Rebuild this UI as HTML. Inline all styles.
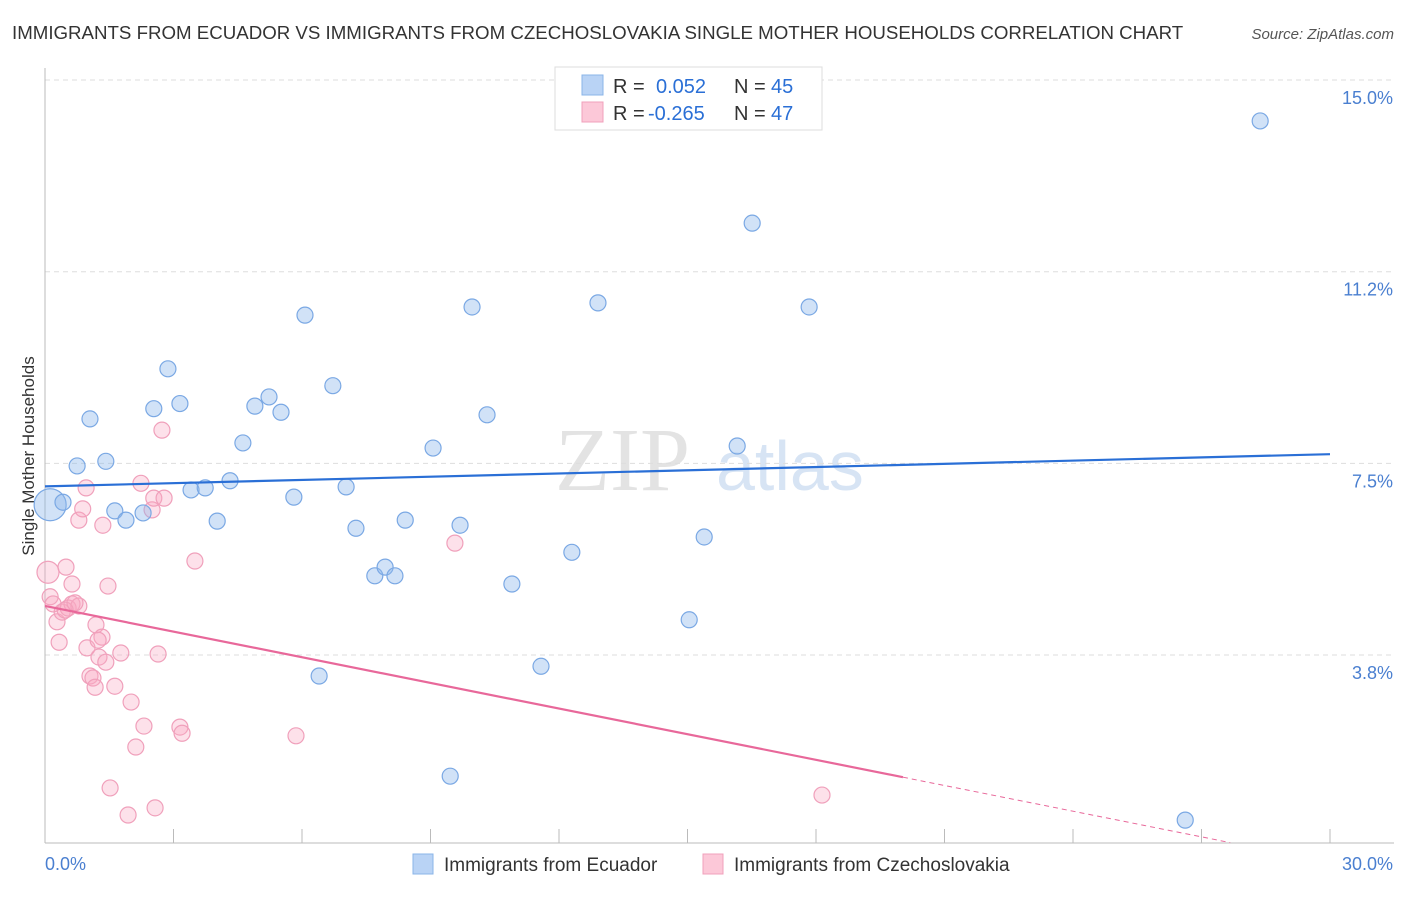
<!DOCTYPE html>
<html><head><meta charset="utf-8"><style>
body{margin:0;background:#fff;font-family:"Liberation Sans",sans-serif;}
</style></head><body>
<svg id="chart" width="1406" height="892" xmlns="http://www.w3.org/2000/svg" font-family="Liberation Sans, sans-serif">
<text x="12" y="39" font-size="18.7" fill="#333">IMMIGRANTS FROM ECUADOR VS IMMIGRANTS FROM CZECHOSLOVAKIA SINGLE MOTHER HOUSEHOLDS CORRELATION CHART</text>
<text x="1394" y="39" font-size="15" fill="#555" text-anchor="end" font-style="italic">Source: ZipAtlas.com</text>
<text x="555" y="490" font-size="90" fill="#ddd" font-family="Liberation Serif, serif" opacity="0.8">ZIP</text>
<text x="716" y="490" font-size="70" fill="#c7d9f0" opacity="0.7">atlas</text>
<g id="grid"></g>
<g id="ticks"></g>
<text transform="translate(34,456) rotate(-90)" font-size="17" fill="#333" text-anchor="middle">Single Mother Households</text>
<g id="pink"></g><g id="blue"></g><g id="lines"></g>
<g>
<rect x="555" y="67" width="267" height="63" fill="#fff" stroke="#ddd"/>
<rect x="582" y="75" width="21" height="20" fill="#b9d3f5" stroke="#8ab4e8"/>
<rect x="582" y="102" width="21" height="20" fill="#fcc8d8" stroke="#f0a0bb"/>
<text x="613" y="93" font-size="20" fill="#333">R =</text>
<text x="656" y="93" font-size="20" fill="#2a6fd6">0.052</text>
<text x="734" y="93" font-size="20" fill="#333">N =</text>
<text x="771" y="93" font-size="20" fill="#2a6fd6">45</text>
<text x="613" y="120" font-size="20" fill="#333">R =</text>
<text x="648" y="120" font-size="20" fill="#2a6fd6">-0.265</text>
<text x="734" y="120" font-size="20" fill="#333">N =</text>
<text x="771" y="120" font-size="20" fill="#2a6fd6">47</text>
</g>
<g>
<rect x="413" y="854" width="20" height="20" fill="#b9d3f5" stroke="#8ab4e8"/>
<text x="444" y="871" font-size="19" fill="#333">Immigrants from Ecuador</text>
<rect x="703" y="854" width="20" height="20" fill="#fcc8d8" stroke="#f0a0bb"/>
<text x="734" y="871" font-size="19" fill="#333">Immigrants from Czechoslovakia</text>
</g>
</svg>
<script>
const yTicks=[3.75,7.5,11.25,15];
const yTickLabels=["3.8%","7.5%","11.2%","15.0%"];
const blueX=[0.12,0.42,0.75,1.05,1.42,1.63,1.89,2.29,2.54,2.87,3.15,3.41,3.74,4.02,4.32,4.62,4.90,5.23,5.51,5.81,6.07,6.40,6.72,7.03,7.26,7.70,7.94,8.17,8.41,9.06,9.46,9.69,9.97,10.32,10.90,11.58,12.30,12.91,15.04,15.39,16.16,16.51,17.84,26.62,28.37];
const blueY=[6.69,6.74,7.45,8.37,7.54,6.57,6.39,6.53,8.57,9.35,8.67,6.98,7.02,6.37,7.16,7.90,8.62,8.80,8.50,6.84,10.40,3.34,9.02,7.04,6.23,5.30,5.47,5.30,6.39,7.80,1.38,6.29,10.56,8.45,5.14,3.53,5.76,10.64,4.44,6.06,7.84,12.20,10.56,0.52,14.20];
const pinkX=[0.07,0.12,0.19,0.28,0.33,0.40,0.49,0.54,0.63,0.63,0.79,0.79,0.88,0.96,0.98,1.05,1.12,1.17,1.19,1.26,1.33,1.35,1.42,1.47,1.52,1.63,1.77,1.94,2.01,2.12,2.24,2.31,2.50,2.54,2.57,2.64,2.73,2.78,3.15,3.20,3.50,5.86,9.57,18.14,0.47,0.70,1.24];
const pinkY=[5.37,4.89,4.75,4.40,4.00,4.59,5.47,4.67,5.14,4.75,4.71,6.39,6.61,7.02,3.89,3.34,3.30,3.12,4.34,3.71,4.10,6.29,3.61,5.10,1.15,3.14,3.79,0.62,2.83,1.95,7.11,2.36,6.59,6.82,0.76,3.77,8.15,6.82,2.34,2.22,5.59,2.17,5.94,1.01,4.63,4.77,4.04];
const blueTrend=[[0,7.05],[30,7.68]];
const pinkTrend=[[0,4.71],[20.03,1.36]];
const pinkTrendDash=[[20.03,1.36],[27.67,0.08]];
const NS="http://www.w3.org/2000/svg";
const sx=v=>45+v*(1285/30);
const sy=v=>846.7-v*51.11;
function mk(tag,attrs,parent){const e=document.createElementNS(NS,tag);for(const k in attrs)e.setAttribute(k,attrs[k]);document.getElementById(parent).appendChild(e);return e;}
yTicks.forEach((t,i)=>{
 const g=mk('line',{x1:45,x2:1394,y1:sy(t),y2:sy(t),stroke:'#ddd','stroke-dasharray':'5,4'},'grid');
 
 
 const l=mk('text',{x:1393,y:sy(t)+24,'font-size':18,fill:'#4a7fd0','text-anchor':'end'},'ticks');
 l.textContent=yTickLabels[i];
 
 
});
const ya=mk('line',{x1:45,x2:45,y1:68,y2:843,stroke:'#bbb'},'grid');


const xa=mk('line',{x1:45,x2:1394,y1:843,y2:843,stroke:'#bbb'},'grid');


for(let i=0;i<=10;i++){const t=mk('line',{x1:sx(i*3),x2:sx(i*3),y1:829,y2:843,stroke:'#bbb'},'ticks');
 
 }
const xl0=mk('text',{x:45,y:870,'font-size':18,fill:'#4a7fd0'},'ticks');xl0.textContent='0.0%';


const xl1=mk('text',{x:1393,y:870,'font-size':18,fill:'#4a7fd0','text-anchor':'end'},'ticks');xl1.textContent='30.0%';


pinkX.forEach((x,i)=>{const c=mk('circle',{cx:sx(x),cy:sy(pinkY[i]),r:i==0?11:8,fill:'rgba(248,170,195,0.35)',stroke:'#f0a0bb','stroke-width':1.2},'pink');
 
 });
blueX.forEach((x,i)=>{const c=mk('circle',{cx:sx(x),cy:sy(blueY[i]),r:i==0?16:8,fill:'rgba(140,182,235,0.4)',stroke:'#7aa8e4','stroke-width':1.2},'blue');
 
 });
const bl=mk('line',{x1:sx(blueTrend[0][0]),y1:sy(blueTrend[0][1]),x2:sx(blueTrend[1][0]),y2:sy(blueTrend[1][1]),stroke:'#2a6fd6','stroke-width':2.2},'lines');


const pl=mk('line',{x1:sx(pinkTrend[0][0]),y1:sy(pinkTrend[0][1]),x2:sx(pinkTrend[1][0]),y2:sy(pinkTrend[1][1]),stroke:'#e8689a','stroke-width':2.2},'lines');


const pd=mk('line',{x1:sx(pinkTrendDash[0][0]),y1:sy(pinkTrendDash[0][1]),x2:sx(pinkTrendDash[1][0]),y2:sy(pinkTrendDash[1][1]),stroke:'#e8689a','stroke-width':1,'stroke-dasharray':'5,4'},'lines');


</script>
</body></html>
